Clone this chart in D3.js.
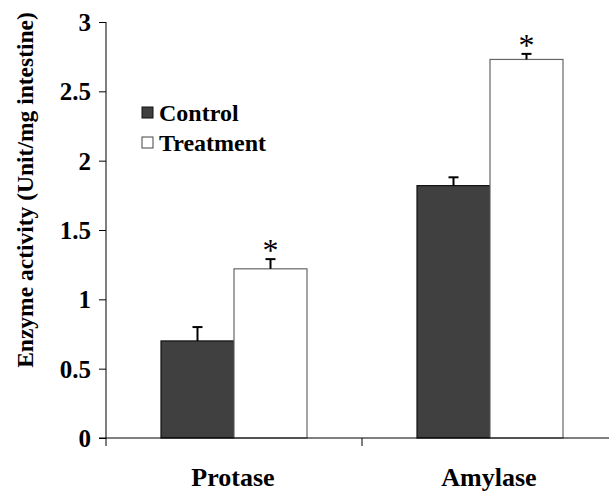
<!DOCTYPE html>
<html>
<head>
<meta charset="utf-8">
<script src="https://cdn.jsdelivr.net/npm/d3@7"></script>
<style>
body { margin: 0; background: #fff; }
text { font-family: "Liberation Serif", "Times New Roman", serif; }
</style>
</head>
<body>
<div id="chart"></div>
<script>
var categories = ["Protase", "Amylase"];
var series = ["Control", "Treatment"];
var control = [0.70, 1.82];
var treatment = [1.22, 2.73];
var controlErr = [0.10, 0.06];
var treatmentErr = [0.07, 0.04];
var yTicks = [0, 0.5, 1, 1.5, 2, 2.5, 3];

var W = 609, H = 491;
var svg = d3.select("#chart").append("svg")
    .attr("width", W).attr("height", H);

var x0 = 106, yTop = 22, yBot = 438;

var x = d3.scaleBand().domain(categories).range([x0, x0 + 256 * 2]).paddingInner(0).paddingOuter(0);
var y = d3.scaleLinear().domain([0, 3]).range([yBot, yTop]);

var barW = 73;
var fills = {Control: "#404040", Treatment: "#ffffff"};
var strokes = {Control: "#111", Treatment: "#666"};
var vals = {Control: control, Treatment: treatment};
var errs = {Control: controlErr, Treatment: treatmentErr};

categories.forEach(function(c, i) {
    var cx = x(c) + x.bandwidth() / 2;
    series.forEach(function(s, k) {
        var bx = cx - barW + k * barW;
        var v = vals[s][i], e = errs[s][i];
        svg.append("rect")
            .attr("x", bx).attr("y", y(v))
            .attr("width", barW).attr("height", y(0) - y(v))
            .attr("fill", fills[s])
            .attr("stroke", strokes[s]).attr("stroke-width", 1.2);
        var mx = bx + barW / 2;
        svg.append("line")
            .attr("x1", mx).attr("x2", mx)
            .attr("y1", y(v)).attr("y2", y(v + e))
            .attr("stroke", "#000").attr("stroke-width", 2);
        svg.append("line")
            .attr("x1", mx - 5).attr("x2", mx + 5)
            .attr("y1", y(v + e)).attr("y2", y(v + e))
            .attr("stroke", "#000").attr("stroke-width", 2);
        if (s === "Treatment") {
            svg.append("text")
                .attr("x", mx).attr("y", y(v + e) + 2)
                .attr("text-anchor", "middle")
                .attr("font-size", "32px")
                .attr("fill", "#000")
                .text("*");
        }
    });
});

// y axis
var yAxis = d3.axisLeft(y).tickValues(yTicks).tickSize(7).tickPadding(8)
    .tickFormat(function(d) { return d; });
var gy = svg.append("g").attr("transform", "translate(" + x0 + ",0)").call(yAxis);
gy.select(".domain").attr("stroke", "#000").attr("d", "M0," + yTop + "V" + yBot);
gy.selectAll(".tick line").attr("stroke", "#000");
gy.selectAll("text")
    .attr("font-weight", "bold").attr("font-size", "25px").attr("fill", "#000")
    .attr("dy", "0.34em");

// x axis
var gx = svg.append("g").attr("transform", "translate(0," + yBot + ")");
gx.append("line").attr("x1", 99).attr("x2", W).attr("y1", 0).attr("y2", 0)
    .attr("stroke", "#000");
[x0, x0 + 256, x0 + 512].forEach(function(t) {
    gx.append("line").attr("x1", t).attr("x2", t).attr("y1", 0).attr("y2", 8)
        .attr("stroke", "#000");
});
categories.forEach(function(c) {
    gx.append("text")
        .attr("x", x(c) + x.bandwidth() / 2 - 1)
        .attr("y", 48)
        .attr("text-anchor", "middle")
        .attr("font-weight", "bold").attr("font-size", "26px")
        .text(c);
});

// y label
svg.append("text")
    .attr("transform", "translate(33,190) rotate(-90)")
    .attr("text-anchor", "middle")
    .attr("font-weight", "bold").attr("font-size", "23.5px")
    .text("Enzyme activity (Unit/mg intestine)");

// legend
series.forEach(function(s, k) {
    var ly = 107 + k * 30;
    svg.append("rect").attr("x", 142).attr("y", ly)
        .attr("width", 11).attr("height", 11)
        .attr("fill", fills[s]).attr("stroke", k ? "#444" : "#111");
    svg.append("text").attr("x", 159).attr("y", ly + 14)
        .attr("font-weight", "bold").attr("font-size", "24px")
        .text(s);
});
</script>
</body>
</html>
